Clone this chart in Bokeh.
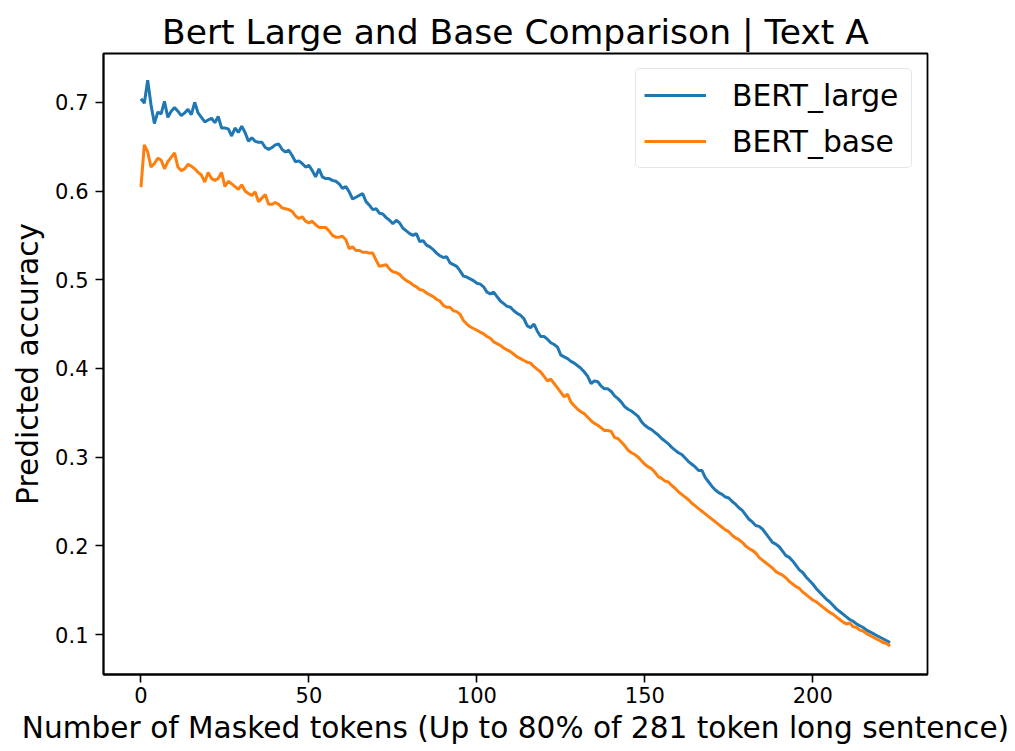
from bokeh.plotting import figure
from bokeh.models import Range1d, FixedTicker, NumeralTickFormatter, Legend, LegendItem
from bokeh.embed import file_html
from bokeh.resources import INLINE

title_text = "Bert Large and Base Comparison | Text A"
x_label = "Number of Masked tokens (Up to 80% of 281 token long sentence)"
y_label = "Predicted accuracy"
series_names = ["BERT_large", "BERT_base"]
x_ticks = [0, 50, 100, 150, 200]
y_ticks = [0.1, 0.2, 0.3, 0.4, 0.5, 0.6, 0.7]

bert_large = [
    0.704, 0.699, 0.725, 0.697, 0.676, 0.689, 0.687, 0.701, 0.683, 0.690,
    0.694, 0.690, 0.685, 0.688, 0.692, 0.686, 0.700, 0.688, 0.683, 0.678,
    0.680, 0.682, 0.677, 0.684, 0.671, 0.671, 0.670, 0.662, 0.671, 0.666,
    0.673, 0.666, 0.656, 0.660, 0.656, 0.655, 0.655, 0.649, 0.647, 0.649,
    0.652, 0.653, 0.647, 0.644, 0.646, 0.640, 0.633, 0.634, 0.631, 0.627,
    0.629, 0.623, 0.616, 0.625, 0.616, 0.614, 0.614, 0.612, 0.611, 0.608,
    0.603, 0.605, 0.599, 0.591, 0.593, 0.595, 0.597, 0.588, 0.584, 0.579,
    0.580, 0.575, 0.574, 0.570, 0.567, 0.563, 0.567, 0.564, 0.558, 0.555,
    0.552, 0.550, 0.552, 0.543, 0.544, 0.539, 0.537, 0.534, 0.530, 0.527,
    0.525, 0.526, 0.519, 0.517, 0.515, 0.510, 0.504, 0.503, 0.501, 0.499,
    0.496, 0.495, 0.492, 0.486, 0.484, 0.486, 0.481, 0.476, 0.473, 0.470,
    0.469, 0.465, 0.462, 0.460, 0.456, 0.448, 0.446, 0.450, 0.442, 0.436,
    0.436, 0.433, 0.429, 0.427, 0.424, 0.415, 0.413, 0.411, 0.408, 0.406,
    0.403, 0.400, 0.396, 0.391, 0.383, 0.386, 0.385, 0.380, 0.377, 0.377,
    0.374, 0.369, 0.366, 0.362, 0.357, 0.354, 0.352, 0.349, 0.346, 0.340,
    0.336, 0.333, 0.331, 0.328, 0.325, 0.321, 0.318, 0.315, 0.311, 0.308,
    0.305, 0.303, 0.299, 0.295, 0.292, 0.289, 0.285, 0.285, 0.277, 0.272,
    0.267, 0.263, 0.260, 0.258, 0.255, 0.254, 0.250, 0.247, 0.243, 0.240,
    0.235, 0.230, 0.227, 0.223, 0.222, 0.219, 0.214, 0.209, 0.204, 0.202,
    0.199, 0.194, 0.189, 0.187, 0.183, 0.178, 0.173, 0.170, 0.165, 0.161,
    0.157, 0.152, 0.148, 0.144, 0.140, 0.137, 0.133, 0.129, 0.126, 0.123,
    0.120, 0.117, 0.115, 0.112, 0.110, 0.108, 0.105, 0.103, 0.101, 0.099,
    0.097, 0.095, 0.093, 0.091,
]

bert_base = [
    0.6045, 0.652, 0.644, 0.627, 0.631, 0.637, 0.635, 0.625, 0.633, 0.638,
    0.643, 0.627, 0.623, 0.625, 0.630, 0.628, 0.625, 0.621, 0.618, 0.610,
    0.621, 0.614, 0.612, 0.614, 0.621, 0.605, 0.611, 0.608, 0.605, 0.602,
    0.607, 0.600, 0.597, 0.595, 0.599, 0.588, 0.592, 0.596, 0.585, 0.585,
    0.587, 0.585, 0.581, 0.580, 0.579, 0.577, 0.572, 0.569, 0.571, 0.566,
    0.564, 0.566, 0.562, 0.559, 0.559, 0.559, 0.555, 0.550, 0.548, 0.548,
    0.549, 0.545, 0.535, 0.537, 0.533, 0.533, 0.531, 0.531, 0.530, 0.530,
    0.522, 0.515, 0.516, 0.517, 0.512, 0.509, 0.508, 0.506, 0.502, 0.499,
    0.497, 0.494, 0.492, 0.489, 0.488, 0.485, 0.483, 0.481, 0.478, 0.476,
    0.471, 0.469, 0.469, 0.465, 0.464, 0.461, 0.454, 0.450, 0.447, 0.445,
    0.443, 0.441, 0.439, 0.436, 0.434, 0.430, 0.428, 0.426, 0.423, 0.421,
    0.419, 0.416, 0.413, 0.411, 0.409, 0.407, 0.406, 0.402, 0.399, 0.396,
    0.391, 0.386, 0.388, 0.383, 0.378, 0.373, 0.368, 0.371, 0.362, 0.358,
    0.354, 0.351, 0.349, 0.345, 0.341, 0.338, 0.336, 0.333, 0.330, 0.330,
    0.329, 0.322, 0.321, 0.317, 0.313, 0.308, 0.305, 0.303, 0.300, 0.296,
    0.292, 0.289, 0.287, 0.283, 0.278, 0.276, 0.273, 0.272, 0.268, 0.265,
    0.261, 0.258, 0.255, 0.252, 0.248, 0.245, 0.242, 0.239, 0.236, 0.233,
    0.230, 0.227, 0.224, 0.221, 0.218, 0.216, 0.212, 0.209, 0.207, 0.204,
    0.200, 0.197, 0.195, 0.192, 0.187, 0.184, 0.181, 0.178, 0.175, 0.171,
    0.169, 0.167, 0.164, 0.160, 0.157, 0.154, 0.152, 0.148, 0.145, 0.142,
    0.139, 0.137, 0.134, 0.131, 0.128, 0.125, 0.123, 0.120, 0.117, 0.114,
    0.112, 0.113, 0.109, 0.108, 0.105, 0.104, 0.101, 0.099, 0.097, 0.095,
    0.093, 0.091, 0.090, 0.087,
]

FONT = "DejaVu Sans"

p = figure(width=1015, height=751, output_backend="svg", toolbar_location=None,
           x_range=Range1d(-11.15, 234.15), y_range=Range1d(0.055, 0.755),
           min_border_left=103, min_border_right=88, min_border_top=53, min_border_bottom=77)

p.title.text = title_text
p.title.text_font = FONT
p.title.text_font_size = "34.5px"
p.title.text_font_style = "normal"
p.title.text_color = "black"
p.title.align = "center"
p.title.standoff = 3

p.xgrid.visible = False
p.ygrid.visible = False
p.outline_line_color = "black"
p.outline_line_width = 1.8
p.outline_line_alpha = 1

for ax in (p.xaxis[0], p.yaxis[0]):
    ax.axis_line_color = "black"
    ax.axis_line_width = 1.8
    ax.major_tick_line_color = "black"
    ax.major_tick_line_width = 1.6
    ax.major_tick_out = 8
    ax.major_tick_in = 0
    ax.minor_tick_line_color = None
    ax.major_label_text_font = FONT
    ax.major_label_text_font_size = "21px"
    ax.major_label_text_color = "black"
    ax.axis_label_text_font = FONT
    ax.axis_label_text_font_size = "29.6px"
    ax.axis_label_text_font_style = "normal"
    ax.axis_label_text_color = "black"

p.xaxis.ticker = FixedTicker(ticks=x_ticks)
p.yaxis.ticker = FixedTicker(ticks=y_ticks)
p.yaxis.formatter = NumeralTickFormatter(format="0.0")
p.xaxis.axis_label = x_label
p.yaxis.axis_label = y_label
p.xaxis.major_label_standoff = 4
p.xaxis.axis_label_standoff = 5
p.yaxis.major_label_standoff = 7
p.yaxis.axis_label_standoff = 7

r1 = p.line(list(range(len(bert_large))), bert_large, line_color="#1f77b4", line_width=3)
r2 = p.line(list(range(len(bert_base))), bert_base, line_color="#ff7f0e", line_width=3)

legend = Legend(items=[LegendItem(label=series_names[0], renderers=[r1]),
                       LegendItem(label=series_names[1], renderers=[r2])],
                location="top_right")
legend.margin = 15
legend.padding = 8
legend.spacing = 10
legend.glyph_width = 62
legend.glyph_height = 36
legend.label_height = 36
legend.label_width = 171
legend.label_standoff = 26
legend.label_text_font = FONT
legend.label_text_font_size = "29.8px"
legend.label_text_color = "black"
legend.border_line_color = "#cccccc"
legend.border_line_width = 1.5
legend.border_radius = 5
legend.background_fill_color = "white"
legend.background_fill_alpha = 0.8
p.add_layout(legend)

open("out.html", "w").write(file_html(p, INLINE))
